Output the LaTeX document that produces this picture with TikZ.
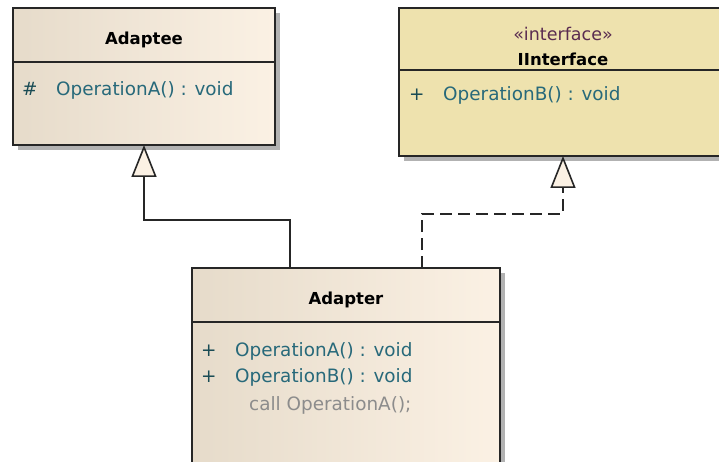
\documentclass[tikz,border=0pt]{standalone}
\usepackage{fontspec}
\setmainfont{DejaVu Sans}
\usepackage{tikz}
\usetikzlibrary{arrows.meta,positioning,shadows}

\definecolor{classLeft}{HTML}{E6DBCA}
\definecolor{classRight}{HTML}{FBF1E4}
\definecolor{ifaceFill}{HTML}{EEE2AE}
\definecolor{edgeGray}{HTML}{262626}
\definecolor{opTeal}{HTML}{27697A}
\definecolor{visTeal}{HTML}{1A4C55}
\definecolor{stereoPurple}{HTML}{5A2C50}
\definecolor{noteGray}{HTML}{8C8C8C}

\newcommand{\umlvis}[1]{\makebox[34pt][l]{\color{visTeal}#1}}

\begin{document}
\begin{tikzpicture}[
    x=1pt, y=1pt,
    box/.style={rectangle, draw=edgeGray, line width=1.6pt, outer sep=0pt, inner sep=0pt, drop shadow={shadow xshift=5pt, shadow yshift=-5pt, fill=black!30, opacity=1}},
    classbox/.style={box, left color=classLeft, right color=classRight},
    ifacebox/.style={box, fill=ifaceFill},
    classname/.style={font=\fontsize{16.5}{19}\selectfont\bfseries, inner sep=0pt},
    stereo/.style={font=\fontsize{17.5}{20}\selectfont, text=stereoPurple, inner sep=0pt},
    member/.style={font=\fontsize{18.4}{21}\selectfont, text=opTeal, inner sep=0pt, anchor=west},
    inherit/.style={line width=1.6pt, draw=edgeGray, -{Triangle[length=32pt, width=25pt, fill=classRight]}},
    realize/.style={inherit, dash pattern=on 12pt off 6pt}
]
\useasboundingbox (0,0) rectangle (719,-462);
\clip (0,0) rectangle (719,-462);

% class boxes
\node[classbox, minimum width=262pt, minimum height=54pt, anchor=north west] (adapteeTitle) at (13,-8) {};
\node[classbox, minimum width=262pt, minimum height=83pt, below=0pt of adapteeTitle] (adapteeBody) {};
\node[ifacebox, minimum width=328pt, minimum height=62pt, anchor=north west] (ifaceTitle) at (399,-8) {};
\node[ifacebox, minimum width=328pt, minimum height=86pt, below=0pt of ifaceTitle] (ifaceBody) {};
\node[classbox, minimum width=308pt, minimum height=54pt, anchor=north west] (adapterTitle) at (192,-268) {};
\node[classbox, minimum width=308pt, minimum height=160pt, below=0pt of adapterTitle] (adapterBody) {};

% names
\node[classname] (adapteeName) at ([yshift=-5pt]adapteeTitle.center) {Adaptee};
\node[stereo] (ifaceStereo) at ([yshift=-26pt]ifaceTitle.north) {«interface»};
\node[classname] (ifaceName) at ([yshift=-51pt]ifaceTitle.north) {IInterface};
\node[classname] (adapterName) at ([yshift=-5pt]adapterTitle.center) {Adapter};

% members
\node[member] (adapteeOpA) at ([xshift=9pt,yshift=-28pt]adapteeBody.north west) {\umlvis{\#}OperationA() : void};
\node[member] (ifaceOpB) at ([xshift=10pt,yshift=-25pt]ifaceBody.north west) {\umlvis{+}OperationB() : void};
\node[member] (adapterOpA) at ([xshift=9pt,yshift=-29pt]adapterBody.north west) {\umlvis{+}OperationA() : void};
\node[member] (adapterOpB) at ([xshift=9pt,yshift=-55pt]adapterBody.north west) {\umlvis{+}OperationB() : void};
\node[member, text=noteGray] (adapterCall) at ([xshift=57pt,yshift=-83pt]adapterBody.north west) {call OperationA();};

% connectors
\draw[inherit] ([xshift=-56pt]adapterTitle.north) -- ++(0,48) -| (adapteeBody.south);
\draw[realize] ([xshift=76pt]adapterTitle.north) -- ++(0,54) -| (ifaceBody.south);
\end{tikzpicture}
\end{document}
